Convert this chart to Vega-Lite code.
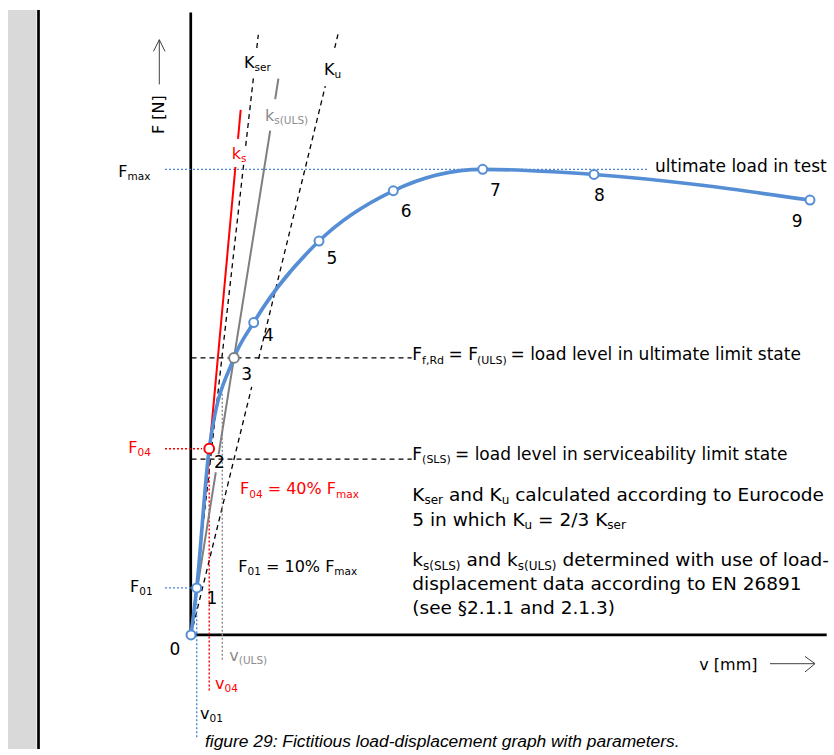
{
  "$schema": "https://vega.github.io/schema/vega-lite/v6.json",
  "width": 834,
  "height": 755,
  "autosize": {"type": "fit", "contains": "padding"},
  "padding": 0,
  "background": "white",
  "config": {"view": {"stroke": null}, "text": {"font": "DejaVu Sans"}},
  "datasets": {
    "margin": [{"v": -3.64, "v2": -3.07, "F": 134.23, "F2": -24.5}],
    "curve": [
      {"pt": 0, "v": 0.02, "F": 0},
      {"pt": 1, "v": 0.134, "F": 10.1},
      {"pt": 2, "v": 0.384, "F": 40},
      {"pt": 3, "v": 0.88, "F": 59.5},
      {"pt": 4, "v": 1.274, "F": 67.1},
      {"pt": 5, "v": 2.58, "F": 84.6},
      {"pt": 6, "v": 4.066, "F": 95.4},
      {"pt": 7, "v": 5.854, "F": 100},
      {"pt": 8, "v": 8.08, "F": 98.9},
      {"pt": 9, "v": 12.4, "F": 93.4}
    ],
    "lines": [
      {"name": "frame", "seg": "frame", "o": 1, "v": -3.03, "F": 134.23},
      {"name": "frame", "seg": "frame", "o": 2, "v": -3.03, "F": -24.5},
      {"name": "yaxis", "seg": "yaxis", "o": 1, "v": 0.015, "F": 0},
      {"name": "yaxis", "seg": "yaxis", "o": 2, "v": 0.015, "F": 133.7},
      {"name": "xaxis", "seg": "xaxis", "o": 1, "v": 0.015, "F": 0},
      {"name": "xaxis", "seg": "xaxis", "o": 2, "v": 12.734, "F": 0},
      {"name": "ks", "seg": "ks1", "o": 1, "v": 0.134, "F": 10.1},
      {"name": "ks", "seg": "ks1", "o": 2, "v": 0.908, "F": 100.5},
      {"name": "ks", "seg": "ks2", "o": 1, "v": 0.96, "F": 106.54},
      {"name": "ks", "seg": "ks2", "o": 2, "v": 1.014, "F": 112.78},
      {"name": "ksULS", "seg": "g1", "o": 1, "v": 0.07, "F": 4.9},
      {"name": "ksULS", "seg": "g1", "o": 2, "v": 0.516, "F": 34.94},
      {"name": "ksULS", "seg": "g2", "o": 1, "v": 0.572, "F": 38.78},
      {"name": "ksULS", "seg": "g2", "o": 2, "v": 1.604, "F": 108.3},
      {"name": "ksULS", "seg": "g3", "o": 1, "v": 1.704, "F": 115.06},
      {"name": "ksULS", "seg": "g3", "o": 2, "v": 1.768, "F": 119.47},
      {"name": "Kser", "seg": "k1", "o": 1, "v": 0.015, "F": 0},
      {"name": "Kser", "seg": "k1", "o": 2, "v": 1.072, "F": 101.0},
      {"name": "Kser", "seg": "k2", "o": 1, "v": 1.114, "F": 105.04},
      {"name": "Kser", "seg": "k2", "o": 2, "v": 1.276, "F": 120.38},
      {"name": "Kser", "seg": "k3", "o": 1, "v": 1.336, "F": 126.07},
      {"name": "Kser", "seg": "k3", "o": 2, "v": 1.366, "F": 128.91},
      {"name": "Ku", "seg": "u1", "o": 1, "v": 0.02, "F": 0},
      {"name": "Ku", "seg": "u1", "o": 2, "v": 1.234, "F": 53.27},
      {"name": "Ku", "seg": "u2", "o": 1, "v": 1.372, "F": 59.3},
      {"name": "Ku", "seg": "u2", "o": 2, "v": 2.706, "F": 117.89},
      {"name": "Ku", "seg": "u3", "o": 1, "v": 2.894, "F": 126.07},
      {"name": "Ku", "seg": "u3", "o": 2, "v": 2.966, "F": 129.27},
      {"name": "FULS", "seg": "FULS", "o": 1, "v": 0.03, "F": 59.5},
      {"name": "FULS", "seg": "FULS", "o": 2, "v": 4.434, "F": 59.5},
      {"name": "FSLS", "seg": "FSLS", "o": 1, "v": 0.03, "F": 37.78},
      {"name": "FSLS", "seg": "FSLS", "o": 2, "v": 4.434, "F": 37.78},
      {"name": "Fmax", "seg": "Fmax", "o": 1, "v": -0.5, "F": 100},
      {"name": "Fmax", "seg": "Fmax", "o": 2, "v": 9.14, "F": 100},
      {"name": "F01", "seg": "F01", "o": 1, "v": -0.5, "F": 10.1},
      {"name": "F01", "seg": "F01", "o": 2, "v": 0.02, "F": 10.1},
      {"name": "v01", "seg": "v01", "o": 1, "v": 0.134, "F": 8.52},
      {"name": "v01", "seg": "v01", "o": 2, "v": 0.134, "F": -22.37},
      {"name": "F04", "seg": "F04", "o": 1, "v": -0.5, "F": 40},
      {"name": "F04", "seg": "F04", "o": 2, "v": 0.24, "F": 40},
      {"name": "v04", "seg": "v04", "o": 1, "v": 0.384, "F": 38.35},
      {"name": "v04", "seg": "v04", "o": 2, "v": 0.384, "F": -12.14},
      {"name": "vULS", "seg": "vULS", "o": 1, "v": 0.646, "F": 51.78},
      {"name": "vULS", "seg": "vULS", "o": 2, "v": 0.646, "F": -5.75},
      {"name": "arrowF", "seg": "aF1", "o": 1, "v": -0.614, "F": 118.25},
      {"name": "arrowF", "seg": "aF1", "o": 2, "v": -0.614, "F": 127.84},
      {"name": "arrowF", "seg": "aF2", "o": 1, "v": -0.73, "F": 125.35},
      {"name": "arrowF", "seg": "aF2", "o": 2, "v": -0.614, "F": 127.84},
      {"name": "arrowF", "seg": "aF2", "o": 3, "v": -0.5, "F": 125.35},
      {"name": "arrowV", "seg": "aV1", "o": 1, "v": 11.6, "F": -6.18},
      {"name": "arrowV", "seg": "aV1", "o": 2, "v": 12.5, "F": -6.18},
      {"name": "arrowV", "seg": "aV2", "o": 1, "v": 12.3, "F": -4.62},
      {"name": "arrowV", "seg": "aV2", "o": 2, "v": 12.5, "F": -6.18},
      {"name": "arrowV", "seg": "aV2", "o": 3, "v": 12.3, "F": -7.95}
    ],
    "labels": [
      {"txt": "F", "v": -1.434, "F": 98.33, "role": "mid", "grp": "general"},
      {"txt": "max", "v": -1.25, "F": 97.69, "role": "midsub", "grp": "general"},
      {"txt": "F", "v": -1.234, "F": 39.06, "role": "mid", "grp": "SLS"},
      {"txt": "04", "v": -1.05, "F": 38.42, "role": "midsub", "grp": "SLS"},
      {"txt": "F", "v": -1.2, "F": 9.23, "role": "mid", "grp": "general"},
      {"txt": "01", "v": -1.016, "F": 8.59, "role": "midsub", "grp": "general"},
      {"txt": "v", "v": 0.786, "F": -5.69, "role": "mid", "grp": "ULS"},
      {"txt": "(ULS)", "v": 0.976, "F": -6.33, "role": "midsub", "grp": "ULS"},
      {"txt": "v", "v": 0.5, "F": -11.72, "role": "mid", "grp": "SLS"},
      {"txt": "04", "v": 0.69, "F": -12.36, "role": "midsub", "grp": "SLS"},
      {"txt": "v", "v": 0.2, "F": -18.11, "role": "mid", "grp": "general"},
      {"txt": "01", "v": 0.39, "F": -18.75, "role": "midsub", "grp": "general"},
      {"txt": "K", "v": 1.08, "F": 121.81, "role": "mid", "grp": "general"},
      {"txt": "ser", "v": 1.29, "F": 121.17, "role": "midsub", "grp": "general"},
      {"txt": "K", "v": 2.68, "F": 120.17, "role": "mid", "grp": "general"},
      {"txt": "u", "v": 2.89, "F": 119.53, "role": "midsub", "grp": "general"},
      {"txt": "k", "v": 1.5, "F": 110.43, "role": "mid", "grp": "ULS"},
      {"txt": "s(ULS)", "v": 1.686, "F": 109.79, "role": "midsub", "grp": "ULS"},
      {"txt": "k", "v": 0.834, "F": 102.27, "role": "mid", "grp": "SLS"},
      {"txt": "s", "v": 1.02, "F": 101.53, "role": "midsub", "grp": "SLS"},
      {"txt": "F", "v": 1.0, "F": 30.19, "role": "mid", "grp": "SLS"},
      {"txt": "04", "v": 1.184, "F": 29.51, "role": "midsub", "grp": "SLS"},
      {"txt": "= 40% F", "v": 1.554, "F": 30.19, "role": "mid", "grp": "SLS"},
      {"txt": "max", "v": 2.92, "F": 29.51, "role": "midsub", "grp": "SLS"},
      {"txt": "F", "v": 0.966, "F": 13.49, "role": "mid", "grp": "general"},
      {"txt": "01", "v": 1.15, "F": 12.81, "role": "midsub", "grp": "general"},
      {"txt": "= 10% F", "v": 1.52, "F": 13.49, "role": "mid", "grp": "general"},
      {"txt": "max", "v": 2.886, "F": 12.81, "role": "midsub", "grp": "general"},
      {"txt": "F", "v": 4.446, "F": 58.96, "role": "base", "grp": "general"},
      {"txt": "f,Rd", "v": 4.642, "F": 58.27, "role": "sub", "grp": "general"},
      {"txt": "= F", "v": 5.17, "F": 58.96, "role": "base", "grp": "general"},
      {"txt": "(ULS)", "v": 5.74, "F": 58.27, "role": "sub", "grp": "general"},
      {"txt": "= load level in ultimate limit state", "v": 6.41, "F": 58.96, "role": "base", "grp": "general"},
      {"txt": "F", "v": 4.446, "F": 37.65, "role": "base", "grp": "general"},
      {"txt": "(SLS)", "v": 4.642, "F": 36.97, "role": "sub", "grp": "general"},
      {"txt": "= load level in serviceability limit state", "v": 5.3, "F": 37.65, "role": "base", "grp": "general"},
      {"txt": "ultimate load in test", "v": 9.3, "F": 99.5, "role": "base", "grp": "general"},
      {"txt": "v [mm]", "v": 10.186, "F": -7.56, "role": "mid", "grp": "general"},
      {"txt": "K", "v": 4.446, "F": 28.76, "role": "pbase", "grp": "general"},
      {"txt": "ser", "v": 4.688, "F": 28.02, "role": "psub", "grp": "general"},
      {"txt": "and K", "v": 5.178, "F": 28.76, "role": "pbase", "grp": "general"},
      {"txt": "u", "v": 6.234, "F": 28.02, "role": "psub", "grp": "general"},
      {"txt": "calculated according to Eurocode", "v": 6.504, "F": 28.76, "role": "pbase", "grp": "general"},
      {"txt": "5 in which K", "v": 4.446, "F": 23.44, "role": "pbase", "grp": "general"},
      {"txt": "u", "v": 6.692, "F": 22.69, "role": "psub", "grp": "general"},
      {"txt": "= 2/3 K", "v": 6.962, "F": 23.44, "role": "pbase", "grp": "general"},
      {"txt": "ser", "v": 8.346, "F": 22.69, "role": "psub", "grp": "general"},
      {"txt": "k", "v": 4.446, "F": 14.7, "role": "pbase", "grp": "general"},
      {"txt": "s(SLS)", "v": 4.66, "F": 13.96, "role": "psub", "grp": "general"},
      {"txt": "and k", "v": 5.528, "F": 14.7, "role": "pbase", "grp": "general"},
      {"txt": "s(ULS)", "v": 6.556, "F": 13.96, "role": "psub", "grp": "general"},
      {"txt": "determined with use of load-", "v": 7.448, "F": 14.7, "role": "pbase", "grp": "general"},
      {"txt": "displacement data according to EN 26891", "v": 4.446, "F": 9.59, "role": "pbase", "grp": "general"},
      {"txt": "(see §2.1.1 and 2.1.3)", "v": 4.446, "F": 4.47, "role": "pbase", "grp": "general"},
      {"txt": "0", "v": -0.408, "F": -4.26, "role": "base", "grp": "general"},
      {"txt": "1", "v": 0.332, "F": 6.54, "role": "base", "grp": "general"},
      {"txt": "2", "v": 0.482, "F": 35.86, "role": "base", "grp": "general"},
      {"txt": "3", "v": 1.026, "F": 54.69, "role": "base", "grp": "general"},
      {"txt": "4", "v": 1.458, "F": 63.07, "role": "base", "grp": "general"},
      {"txt": "5", "v": 2.732, "F": 79.69, "role": "base", "grp": "general"},
      {"txt": "6", "v": 4.216, "F": 89.7, "role": "base", "grp": "general"},
      {"txt": "7", "v": 5.998, "F": 94.33, "role": "base", "grp": "general"},
      {"txt": "8", "v": 8.082, "F": 93.18, "role": "base", "grp": "general"},
      {"txt": "9", "v": 12.036, "F": 87.72, "role": "base", "grp": "general"}
    ],
    "axisTitle": [{"txt": "F [N]", "v": -0.614, "F": 111.76}],
    "caption": [{"txt": "figure 29: Fictitious load-displacement graph with parameters.", "v": 0.3, "F": -24.0}]
  },
  "layer": [
    {
      "data": {"name": "margin"},
      "mark": {"type": "rect", "color": "#d9d9d9"},
      "encoding": {
        "x": {"field": "v", "type": "quantitative", "scale": {"domain": [-3.8, 12.88], "nice": false, "zero": false}, "axis": null},
        "x2": {"field": "v2"},
        "y": {"field": "F", "type": "quantitative", "scale": {"domain": [-24.5, 136.37], "nice": false, "zero": false}, "axis": null},
        "y2": {"field": "F2"}
      }
    },
    {
      "data": {"name": "lines"},
      "transform": [{"filter": {"field": "name", "oneOf": ["frame", "yaxis", "xaxis"]}}],
      "mark": {"type": "line", "color": "#000000", "strokeWidth": 2.7},
      "encoding": {
        "x": {"field": "v", "type": "quantitative"},
        "y": {"field": "F", "type": "quantitative"},
        "detail": {"field": "seg"},
        "order": {"field": "o"}
      }
    },
    {
      "data": {"name": "lines"},
      "transform": [{"filter": {"field": "name", "oneOf": ["Kser", "Ku", "FULS", "FSLS"]}}],
      "mark": {"type": "line", "color": "#000000", "strokeWidth": 1.3, "strokeDash": [5, 4]},
      "encoding": {
        "x": {"field": "v", "type": "quantitative"},
        "y": {"field": "F", "type": "quantitative"},
        "detail": {"field": "seg"},
        "order": {"field": "o"}
      }
    },
    {
      "data": {"name": "lines"},
      "transform": [{"filter": {"field": "name", "oneOf": ["Fmax", "F01", "v01"]}}],
      "mark": {"type": "line", "color": "#4f86d6", "strokeWidth": 1.4, "strokeDash": [2, 2]},
      "encoding": {
        "x": {"field": "v", "type": "quantitative"},
        "y": {"field": "F", "type": "quantitative"},
        "detail": {"field": "seg"},
        "order": {"field": "o"}
      }
    },
    {
      "data": {"name": "lines"},
      "transform": [{"filter": {"field": "name", "oneOf": ["F04", "v04"]}}],
      "mark": {"type": "line", "color": "#ff0000", "strokeWidth": 1.4, "strokeDash": [2, 2]},
      "encoding": {
        "x": {"field": "v", "type": "quantitative"},
        "y": {"field": "F", "type": "quantitative"},
        "detail": {"field": "seg"},
        "order": {"field": "o"}
      }
    },
    {
      "data": {"name": "lines"},
      "transform": [{"filter": {"field": "name", "oneOf": ["vULS"]}}],
      "mark": {"type": "line", "color": "#8c8c8c", "strokeWidth": 1.4, "strokeDash": [2, 2]},
      "encoding": {
        "x": {"field": "v", "type": "quantitative"},
        "y": {"field": "F", "type": "quantitative"},
        "detail": {"field": "seg"},
        "order": {"field": "o"}
      }
    },
    {
      "data": {"name": "lines"},
      "transform": [{"filter": {"field": "name", "oneOf": ["arrowF", "arrowV"]}}],
      "mark": {"type": "line", "color": "#404040", "strokeWidth": 1},
      "encoding": {
        "x": {"field": "v", "type": "quantitative"},
        "y": {"field": "F", "type": "quantitative"},
        "detail": {"field": "seg"},
        "order": {"field": "o"}
      }
    },
    {
      "data": {"name": "lines"},
      "transform": [{"filter": {"field": "name", "oneOf": ["ksULS"]}}],
      "mark": {"type": "line", "color": "#7f7f7f", "strokeWidth": 2},
      "encoding": {
        "x": {"field": "v", "type": "quantitative"},
        "y": {"field": "F", "type": "quantitative"},
        "detail": {"field": "seg"},
        "order": {"field": "o"}
      }
    },
    {
      "data": {"name": "lines"},
      "transform": [{"filter": {"field": "name", "oneOf": ["ks"]}}],
      "mark": {"type": "line", "color": "#ff0000", "strokeWidth": 2},
      "encoding": {
        "x": {"field": "v", "type": "quantitative"},
        "y": {"field": "F", "type": "quantitative"},
        "detail": {"field": "seg"},
        "order": {"field": "o"}
      }
    },
    {
      "data": {"name": "curve"},
      "mark": {"type": "line", "color": "#558ed5", "strokeWidth": 3.6, "interpolate": "monotone"},
      "encoding": {
        "x": {"field": "v", "type": "quantitative"},
        "y": {"field": "F", "type": "quantitative"}
      }
    },
    {
      "data": {"name": "curve"},
      "transform": [{"filter": "datum.pt != 2 && datum.pt != 3"}],
      "mark": {"type": "point", "shape": "circle", "filled": true, "fill": "white", "stroke": "#558ed5", "strokeWidth": 2, "size": 80, "opacity": 1},
      "encoding": {
        "x": {"field": "v", "type": "quantitative"},
        "y": {"field": "F", "type": "quantitative"}
      }
    },
    {
      "data": {"name": "curve"},
      "transform": [{"filter": "datum.pt == 2"}],
      "mark": {"type": "point", "shape": "circle", "filled": true, "fill": "white", "stroke": "#ff0000", "strokeWidth": 2, "size": 95, "opacity": 1},
      "encoding": {
        "x": {"field": "v", "type": "quantitative"},
        "y": {"field": "F", "type": "quantitative"}
      }
    },
    {
      "data": {"name": "curve"},
      "transform": [{"filter": "datum.pt == 3"}],
      "mark": {"type": "point", "shape": "circle", "filled": true, "fill": "white", "stroke": "#7f7f7f", "strokeWidth": 2, "size": 95, "opacity": 1},
      "encoding": {
        "x": {"field": "v", "type": "quantitative"},
        "y": {"field": "F", "type": "quantitative"}
      }
    },
    {
      "data": {"name": "labels"},
      "transform": [{"filter": {"field": "role", "equal": "base"}}],
      "mark": {"type": "text", "align": "left", "baseline": "alphabetic", "fontSize": 17},
      "encoding": {
        "x": {"field": "v", "type": "quantitative"},
        "y": {"field": "F", "type": "quantitative"},
        "text": {"field": "txt"},
        "color": {"field": "grp", "type": "nominal", "scale": {"domain": ["general", "SLS", "ULS"], "range": ["#000000", "#ff0000", "#8c8c8c"]}, "legend": null}
      }
    },
    {
      "data": {"name": "labels"},
      "transform": [{"filter": {"field": "role", "equal": "sub"}}],
      "mark": {"type": "text", "align": "left", "baseline": "alphabetic", "fontSize": 11},
      "encoding": {
        "x": {"field": "v", "type": "quantitative"},
        "y": {"field": "F", "type": "quantitative"},
        "text": {"field": "txt"},
        "color": {"field": "grp", "type": "nominal", "scale": {"domain": ["general", "SLS", "ULS"], "range": ["#000000", "#ff0000", "#8c8c8c"]}, "legend": null}
      }
    },
    {
      "data": {"name": "labels"},
      "transform": [{"filter": {"field": "role", "equal": "mid"}}],
      "mark": {"type": "text", "align": "left", "baseline": "alphabetic", "fontSize": 16},
      "encoding": {
        "x": {"field": "v", "type": "quantitative"},
        "y": {"field": "F", "type": "quantitative"},
        "text": {"field": "txt"},
        "color": {"field": "grp", "type": "nominal", "scale": {"domain": ["general", "SLS", "ULS"], "range": ["#000000", "#ff0000", "#8c8c8c"]}, "legend": null}
      }
    },
    {
      "data": {"name": "labels"},
      "transform": [{"filter": {"field": "role", "equal": "midsub"}}],
      "mark": {"type": "text", "align": "left", "baseline": "alphabetic", "fontSize": 10.5},
      "encoding": {
        "x": {"field": "v", "type": "quantitative"},
        "y": {"field": "F", "type": "quantitative"},
        "text": {"field": "txt"},
        "color": {"field": "grp", "type": "nominal", "scale": {"domain": ["general", "SLS", "ULS"], "range": ["#000000", "#ff0000", "#8c8c8c"]}, "legend": null}
      }
    },
    {
      "data": {"name": "labels"},
      "transform": [{"filter": {"field": "role", "equal": "pbase"}}],
      "mark": {"type": "text", "align": "left", "baseline": "alphabetic", "fontSize": 18.5},
      "encoding": {
        "x": {"field": "v", "type": "quantitative"},
        "y": {"field": "F", "type": "quantitative"},
        "text": {"field": "txt"},
        "color": {"field": "grp", "type": "nominal", "scale": {"domain": ["general", "SLS", "ULS"], "range": ["#000000", "#ff0000", "#8c8c8c"]}, "legend": null}
      }
    },
    {
      "data": {"name": "labels"},
      "transform": [{"filter": {"field": "role", "equal": "psub"}}],
      "mark": {"type": "text", "align": "left", "baseline": "alphabetic", "fontSize": 12},
      "encoding": {
        "x": {"field": "v", "type": "quantitative"},
        "y": {"field": "F", "type": "quantitative"},
        "text": {"field": "txt"},
        "color": {"field": "grp", "type": "nominal", "scale": {"domain": ["general", "SLS", "ULS"], "range": ["#000000", "#ff0000", "#8c8c8c"]}, "legend": null}
      }
    },
    {
      "data": {"name": "axisTitle"},
      "mark": {"type": "text", "align": "center", "baseline": "middle", "fontSize": 16, "angle": 270, "color": "#000000"},
      "encoding": {
        "x": {"field": "v", "type": "quantitative"},
        "y": {"field": "F", "type": "quantitative"},
        "text": {"field": "txt"}
      }
    },
    {
      "data": {"name": "caption"},
      "mark": {"type": "text", "align": "left", "baseline": "alphabetic", "fontSize": 17.4, "fontStyle": "italic", "font": "Liberation Sans", "color": "#000000"},
      "encoding": {
        "x": {"field": "v", "type": "quantitative"},
        "y": {"field": "F", "type": "quantitative"},
        "text": {"field": "txt"}
      }
    }
  ]
}
